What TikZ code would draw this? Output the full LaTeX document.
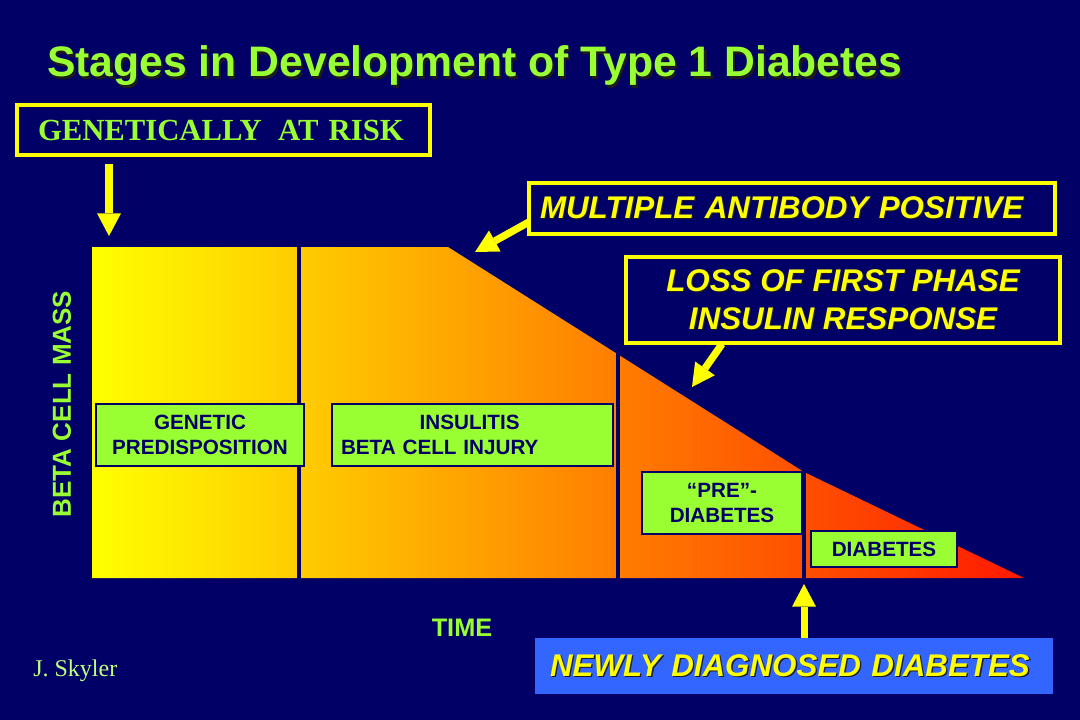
\documentclass[tikz,border=0pt]{standalone}
\usepackage{fontspec}
\setmainfont{Liberation Serif}
\setsansfont{Liberation Sans}
\usetikzlibrary{arrows.meta}
\definecolor{bgc}{HTML}{000066}
\definecolor{grn}{HTML}{99FF33}
\definecolor{ylw}{HTML}{FFFF00}
\definecolor{blu}{HTML}{3366FF}
\definecolor{shd}{HTML}{1C1C1C}
\definecolor{skc}{HTML}{BFFF80}
\definecolor{orn}{RGB}{255,150,0}
\definecolor{rdo}{RGB}{255,25,0}
\newcommand\shtext[2][1.2pt]{\leavevmode\rlap{\kern#1\raisebox{-#1}{\color{shd}#2}}#2}
\tikzset{
  ybox/.style={draw=ylw, line width=3pt, inner ysep=0pt, text=ylw,
    font=\sffamily\bfseries\itshape\fontsize{23.5}{28.5}\selectfont},
  gbox/.style={fill=grn, draw=bgc, line width=0.8pt, text=bgc, inner sep=0pt,
    font=\sffamily\bfseries\fontsize{15.5}{18.75}\selectfont},
  yarrow/.style={draw=ylw, line width=5.5pt, -{Triangle[length=17pt,width=18pt,line width=0pt]}},
  divider/.style={draw=bgc, line width=3pt},
  lbl/.style={inner sep=0pt, text=grn, font=\sffamily\bfseries\fontsize{19}{23}\selectfont}
}
\begin{document}
\begin{tikzpicture}[x=0.75pt,y=-0.75pt]
\fill[bgc] (0,0) rectangle (1080,720);
\useasboundingbox (0,0) rectangle (1080,720);
% title
\node[anchor=base west, inner sep=0pt, text=grn, font=\sffamily\bfseries\fontsize{32}{38}\selectfont] (title) at (47,77) {\shtext[1.6pt]{Stages in Development of Type 1 Diabetes}};
% beta cell mass shape
\path[left color=ylw, middle color=orn, right color=rdo] (92,247) -- (448,247) -- (804,472) -- (1024,578) -- (92,578) -- cycle;
\draw[divider] (299,244) -- (299,579);
\draw[divider] (618,345) -- (618,579);
\draw[divider] (804,462) -- (804,579);
% stage boxes
\node[gbox, minimum width=156pt, minimum height=46.5pt, align=center] (gen) at (200,435) {GENETIC\\PREDISPOSITION};
\node[gbox, minimum width=210.75pt, minimum height=46.5pt, align=left, text width=197.25pt, inner xsep=6.75pt] (ins) at (472.5,435) {\hspace*{59pt}INSULITIS\\BETA CELL INJURY};
\node[gbox, minimum width=120pt, minimum height=46.5pt, align=center] (pre) at (722,503) {“PRE”-\\DIABETES};
\node[gbox, minimum width=109.5pt, minimum height=27pt, align=center] (dia) at (884,549) {DIABETES};
% axis labels
\node[lbl, rotate=90, font=\sffamily\bfseries\fontsize{19.5}{23}\selectfont] (mass) at (62,404) {BETA CELL MASS};
\node[lbl] (time) at (462,628) {TIME};
\node[anchor=base west, inner sep=0pt, text=skc, font=\rmfamily\fontsize{18}{21}\selectfont] (sky) at (33,676) {J. Skyler};
% callout boxes
\node[draw=ylw, line width=3pt, inner ysep=0pt, inner xsep=15.75pt, text width=278.25pt, align=left,
  minimum height=37.5pt, text=grn, font=\rmfamily\bfseries\fontsize{23}{27}\selectfont] (risk) at (223.5,130)
  {GENETICALLY\hspace{0.2em} AT RISK};
\node[ybox, inner xsep=8.25pt, text width=378pt, align=left, minimum height=38.25pt] (mab) at (792,208.5)
  {\shtext[1pt]{MULTIPLE ANTIBODY POSITIVE}};
\node[ybox, minimum width=325.5pt, minimum height=64.5pt, align=center] (loss) at (843,300)
  {\shtext[1pt]{LOSS OF FIRST PHASE}\\\shtext[1pt]{INSULIN RESPONSE}};
\node[fill=blu, inner ysep=0pt, inner xsep=11.25pt, text width=366pt, align=left, minimum height=42pt, text=ylw,
  font=\sffamily\bfseries\itshape\fontsize{23.5}{28.5}\selectfont] (newd) at (794,666)
  {\shtext[1pt]{NEWLY DIAGNOSED DIABETES}};
% arrows
\coordinate (a1s) at (109,164);
\coordinate (a1e) at (109,236);
\coordinate (a2s) at (529,222);
\coordinate (a2e) at (475,252);
\coordinate (a3s) at (722,344);
\coordinate (a3e) at (692,387);
\coordinate (a4s) at (804,638);
\coordinate (a4e) at (804,584);
\draw[yarrow, line width=6pt] (a1s) -- (a1e);
\draw[yarrow] (a2s) -- (a2e);
\draw[yarrow] (a3s) -- (a3e);
\draw[yarrow, line width=5.25pt] (a4s) -- (a4e);
\end{tikzpicture}
\end{document}
